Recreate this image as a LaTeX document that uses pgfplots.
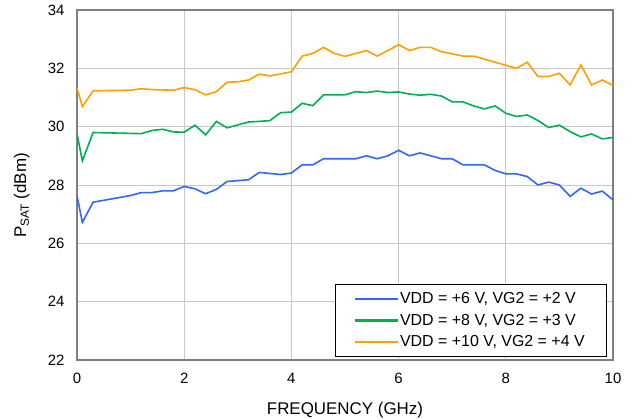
\documentclass[border=0pt]{standalone}
\usepackage{pgfplots}
\pgfplotsset{compat=1.18}
\usepackage{fontspec}
\setmainfont{Liberation Sans}
\definecolor{cblue}{RGB}{51,102,255}
\definecolor{cgreen}{RGB}{0,176,80}
\definecolor{corange}{RGB}{255,160,0}
\definecolor{frame}{RGB}{128,128,128}
\definecolor{gridc}{RGB}{200,200,200}
\begin{document}
\begin{tikzpicture}
\useasboundingbox (-77bp,-59bp) rectangle (556bp,360bp);
\begin{axis}[
    at={(0,0)}, anchor=south west,
    scale only axis,
    width=536bp, height=350bp,
    xmin=0, xmax=10, ymin=22, ymax=34,
    xtick={0,2,...,10}, ytick={22,24,...,34},
    grid=major,
    major grid style={gridc, line width=0.8bp},
    axis line style={frame, line width=1.6bp},
    major tick length=0pt,
    tick label style={font=\fontsize{15}{17}\selectfont},
    /pgf/number format/assume math mode=true,
    xticklabel style={yshift=-10bp},
    yticklabel style={xshift=-9bp},
    xlabel={FREQUENCY (GHz)},
    ylabel={P\textsubscript{SAT} (dBm)},
    label style={font=\fontsize{17}{19}\selectfont},
    xlabel style={at={(axis description cs:0.5,-0.143)}, anchor=center},
    ylabel style={at={(axis description cs:-0.103,0.47)}, anchor=center},
    legend style={at={(axis description cs:0.989,0.009)}, anchor=south east,
        draw=black, line width=0.8bp, fill=white,
        font=\fontsize{16}{18}\selectfont,
        inner xsep=20bp, inner ysep=6bp, row sep=5bp},
    legend cell align=left,
    legend image code/.code={\fill[#1, draw=none] (0bp,-1.2bp) rectangle (43bp,1.2bp);},
]
\addplot[cblue, line width=1.6bp] coordinates {
(0,27.63) (0.1,26.72) (0.3,27.41) (1.0,27.64) (1.2,27.74) (1.4,27.74)
(1.6,27.8) (1.8,27.8) (2.0,27.95) (2.2,27.87) (2.4,27.70) (2.6,27.85)
(2.8,28.12) (3.2,28.18) (3.4,28.43) (3.8,28.36) (4.0,28.41) (4.2,28.69)
(4.4,28.69) (4.6,28.9) (5.2,28.9) (5.4,29.0) (5.6,28.9) (5.8,29.0)
(6.0,29.19) (6.2,29.0) (6.4,29.1) (6.6,29.0) (6.8,28.9) (7.0,28.9)
(7.2,28.69) (7.6,28.69) (7.8,28.5) (8.0,28.38) (8.2,28.38) (8.4,28.29)
(8.6,28.0) (8.8,28.1) (9.0,28.0) (9.2,27.61) (9.4,27.89) (9.6,27.69)
(9.8,27.79) (10.0,27.49)
};
\addlegendentry{VDD = +6 V, VG2 = +2 V}
\addplot[cgreen, line width=1.6bp] coordinates {
(0,29.75) (0.1,28.83) (0.3,29.80) (1.2,29.76) (1.4,29.87) (1.6,29.91)
(1.8,29.82) (2.0,29.81) (2.2,30.05) (2.4,29.72) (2.6,30.18) (2.8,29.96)
(3.2,30.16) (3.4,30.18) (3.6,30.21) (3.8,30.48) (4.0,30.5) (4.2,30.8)
(4.4,30.72) (4.6,31.09) (5.0,31.09) (5.2,31.2) (5.4,31.17) (5.6,31.22)
(5.8,31.17) (6.0,31.19) (6.2,31.12) (6.4,31.08) (6.6,31.11) (6.8,31.05)
(7.0,30.85) (7.2,30.85) (7.4,30.71) (7.6,30.61) (7.8,30.71) (8.0,30.46)
(8.2,30.35) (8.4,30.40) (8.6,30.21) (8.8,29.97) (9.0,30.05) (9.2,29.83)
(9.4,29.65) (9.6,29.75) (9.8,29.58) (10.0,29.63)
};
\addlegendentry{VDD = +8 V, VG2 = +3 V}
\addplot[corange, line width=1.6bp] coordinates {
(0,31.32) (0.1,30.69) (0.3,31.23) (1.0,31.25) (1.2,31.3) (1.4,31.27)
(1.8,31.25) (2.0,31.34) (2.2,31.27) (2.4,31.09) (2.6,31.2) (2.8,31.52)
(3.0,31.54) (3.2,31.6) (3.4,31.8) (3.6,31.74) (4.0,31.88) (4.2,32.42)
(4.4,32.51) (4.6,32.72) (4.8,32.51) (5.0,32.41) (5.2,32.51) (5.4,32.61)
(5.6,32.42) (5.8,32.61) (6.0,32.81) (6.2,32.61) (6.4,32.72) (6.6,32.72)
(6.8,32.57) (7.2,32.42) (7.4,32.42) (8.2,32.0) (8.4,32.21) (8.6,31.72)
(8.8,31.72) (9.0,31.83) (9.2,31.43) (9.4,32.12) (9.6,31.43) (9.8,31.6)
(10.0,31.41)
};
\addlegendentry{VDD = +10 V, VG2 = +4 V}
\end{axis}
\end{tikzpicture}
\end{document}
